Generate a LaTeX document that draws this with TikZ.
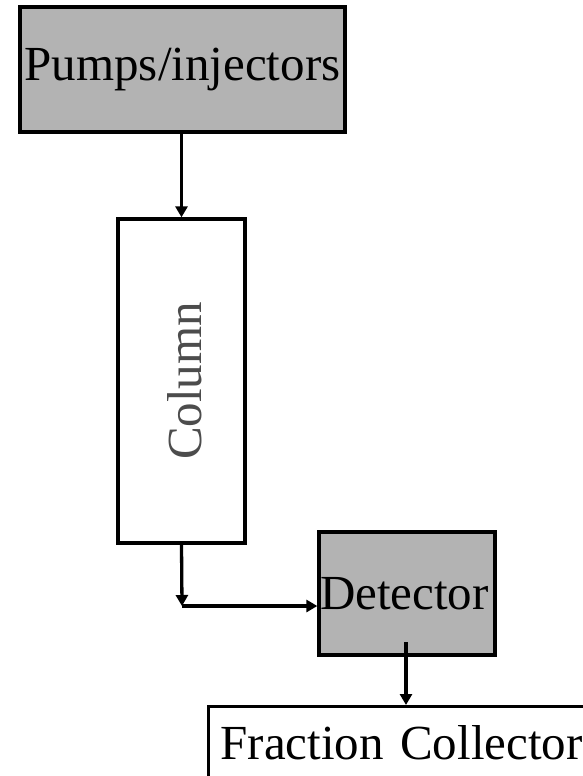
\documentclass[tikz,border=0pt]{standalone}
\usepackage{fontspec}
\setmainfont{Liberation Serif}
\usetikzlibrary{arrows.meta}
\definecolor{boxgray}{RGB}{179,179,179}
\begin{document}
\begin{tikzpicture}[x=1pt,y=-1pt,
  font=\fontsize{49}{58}\selectfont,
  box/.style={draw=black,line width=3.3pt,rectangle,inner sep=0pt},
  graybox/.style={box,fill=boxgray},
  arr/.style={line width=3.3pt,-{Triangle[length=11pt,width=12pt]}}]
\useasboundingbox[fill=white] (0,0) rectangle (582,776);
\node[graybox,minimum width=325,minimum height=125] (pumps) at (182.5,69.5) {Pumps/injectors};
\node[box,fill=white,minimum width=127,minimum height=324] (col) at (181.5,381) {};
\node[rotate=90,text=black!70,inner sep=0pt] (coltext) at (185,381) {Column};
\node[graybox,minimum width=176,minimum height=123,text width=174,align=left,inner xsep=1pt] (det) at (407,593.5) {Detector};
\node[box,fill=white,anchor=north west,text width=390,align=left,inner xsep=12pt,inner ysep=19pt,text depth=40pt] (frac) at (207,705) {Fraction Collector};
\coordinate (j) at (182,606);
\coordinate (ds) at (406,642);
\draw[arr] (col.north |- pumps.south) -- (col.north);
\draw[arr] (col.south) -- (j);
\draw[arr] (j) -- (j -| det.west);
\draw[arr] (ds) -- (ds |- frac.north);
\end{tikzpicture}
\end{document}
